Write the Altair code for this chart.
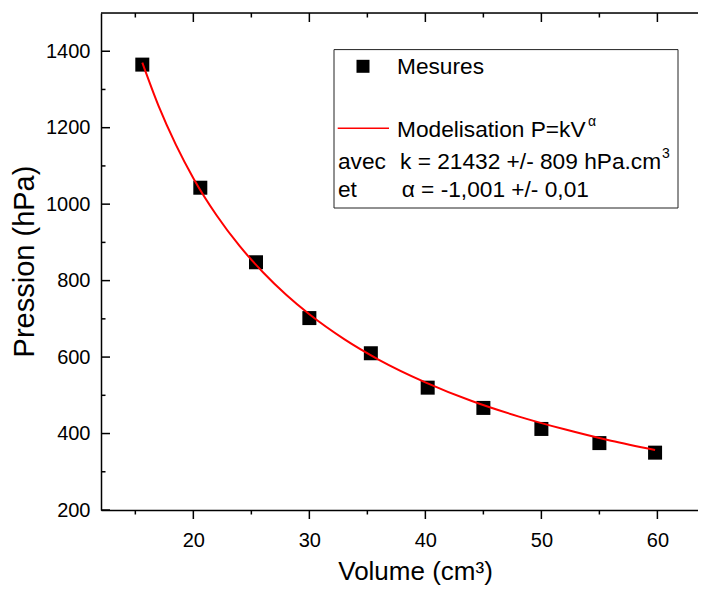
import altair as alt
import pandas as pd

# Measured data
volume = [15.6, 20.6, 25.4, 30.0, 35.3, 40.2, 45.0, 50.0, 55.0, 59.8]
pression = [1365, 1043, 848, 702, 610, 520, 467, 412, 375, 350]

# Fitted curve
fit_v = [15.6, 17, 18.5, 20, 22, 24, 26, 28, 30, 33, 36, 40, 44, 48, 52, 56, 59.8]
fit_p = [1370, 1257, 1155, 1068, 971, 890, 822, 763, 712, 647, 593, 534, 485, 445, 411, 381, 357]

x_major = [20, 30, 40, 50, 60]
x_minor = [15, 25, 35, 45, 55]
y_major = [200, 400, 600, 800, 1000, 1200, 1400]
y_minor = [300, 500, 700, 900, 1100, 1300]

W, H = 597, 497
FONT = "Liberation Sans"

df_pts = pd.DataFrame({"V": volume, "P": pression})
df_fit = pd.DataFrame({"V": fit_v, "P": fit_p})
df_xmaj = pd.DataFrame({"V": x_major})
df_xmin = pd.DataFrame({"V": x_minor})
df_ymaj = pd.DataFrame({"P": y_major})
df_ymin = pd.DataFrame({"P": y_minor})
one = alt.Data(values=[{"a": 1}])

xs = alt.Scale(domain=[12.04, 63.5], nice=False, zero=False)
ys = alt.Scale(domain=[200, 1500], nice=False, zero=False)

xaxis = alt.Axis(values=x_major, ticks=False, grid=False, labelPadding=20, format="d",
                 labelFontSize=20, labelFont=FONT, labelColor="black",
                 domainColor="black", domainWidth=1.5,
                 title="Volume (cm³)", titleFontSize=26, titleFont=FONT,
                 titleFontWeight="normal", titleColor="black",
                 titleX=314, titleY=69, titleBaseline="alphabetic", titleAlign="center")
yaxis = alt.Axis(values=y_major, ticks=False, grid=False, labelPadding=11, format="d",
                 labelFontSize=20, labelFont=FONT, labelColor="black",
                 domainColor="black", domainWidth=1.5,
                 title="Pression (hPa)", titleFontSize=29, titleFont=FONT,
                 titleFontWeight="normal", titleColor="black", titleAngle=-90,
                 titleX=-68, titleY=248, titleBaseline="alphabetic", titleAlign="center")

points = alt.Chart(df_pts).mark_square(size=196, color="black", opacity=1).encode(
    x=alt.X("V:Q", scale=xs, axis=xaxis),
    y=alt.Y("P:Q", scale=ys, axis=yaxis),
)
curve = alt.Chart(df_fit).mark_line(color="#ff0000", strokeWidth=2,
                                    interpolate="monotone").encode(
    x=alt.X("V:Q", scale=xs), y=alt.Y("P:Q", scale=ys)
)

tick_style = dict(color="black", strokeWidth=1.5)
top_line = alt.Chart(one).mark_rule(**tick_style).encode(
    x=alt.value(0), x2=alt.value(W), y=alt.value(0))
top_major = alt.Chart(df_xmaj).mark_rule(**tick_style).encode(
    x=alt.X("V:Q", scale=xs), y=alt.value(0), y2=alt.value(9))
top_minor = alt.Chart(df_xmin).mark_rule(**tick_style).encode(
    x=alt.X("V:Q", scale=xs), y=alt.value(0), y2=alt.value(4.5))
bot_major = alt.Chart(df_xmaj).mark_rule(**tick_style).encode(
    x=alt.X("V:Q", scale=xs), y=alt.value(H), y2=alt.value(H + 9))
bot_minor = alt.Chart(df_xmin).mark_rule(**tick_style).encode(
    x=alt.X("V:Q", scale=xs), y=alt.value(H), y2=alt.value(H + 4.5))
left_major = alt.Chart(df_ymaj).mark_rule(**tick_style).encode(
    y=alt.Y("P:Q", scale=ys), x=alt.value(0), x2=alt.value(9))
left_minor = alt.Chart(df_ymin).mark_rule(**tick_style).encode(
    y=alt.Y("P:Q", scale=ys), x=alt.value(0), x2=alt.value(4.5))

# Legend box
LX0, LX1, LY0, LY1 = 233, 577, 36.6, 195
leg_box = alt.Chart(one).mark_rect(fill="white", fillOpacity=0, stroke="#222222",
                                   strokeWidth=1).encode(
    x=alt.value(LX0), x2=alt.value(LX1), y=alt.value(LY0), y2=alt.value(LY1))
leg_sq = alt.Chart(one).mark_square(size=169, color="black", opacity=1).encode(
    x=alt.value(262), y=alt.value(53.3))
leg_line = alt.Chart(one).mark_rule(color="#ff0000", strokeWidth=1.5).encode(
    x=alt.value(236.7), x2=alt.value(288), y=alt.value(115.3))


def txt(s, x, y, size=22.7):
    return alt.Chart(one).mark_text(align="left", baseline="alphabetic", fontSize=size,
                                    font=FONT, color="black").encode(
        x=alt.value(x), y=alt.value(y), text=alt.value(s))


leg_texts = [
    txt("Mesures", 296, 60.6),
    txt("Modelisation P=kV", 296, 124),
    txt("α", 487, 113, 14),
    txt("avec", 237, 155.6),
    txt("k = 21432 +/- 809 hPa.cm", 299, 155.6),
    txt("3", 561, 145, 14),
    txt("et", 237, 184),
    txt("α = -1,001 +/- 0,01", 300.7, 184),
]

chart = alt.layer(
    points, curve, top_line, top_major, top_minor, bot_major, bot_minor,
    left_major, left_minor, leg_box, leg_sq, leg_line, *leg_texts
).properties(
    width=W, height=H,
    autosize=alt.AutoSizeParams(type="none"),
    padding={"left": 93, "top": 5, "right": 0, "bottom": 76},
).configure_view(stroke=None).configure(background="white")

chart.save("out.html", embed_options={"renderer": "svg", "actions": False})
